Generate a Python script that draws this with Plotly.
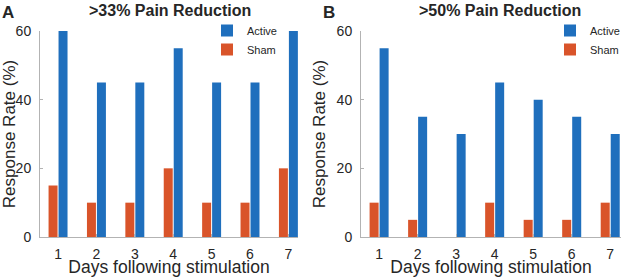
import plotly.graph_objects as go

days = [1, 2, 3, 4, 5, 6, 7]
active_33 = [60, 45, 45, 55, 45, 45, 60]
sham_33 = [15, 10, 10, 20, 10, 10, 20]
active_50 = [55, 35, 30, 45, 40, 35, 30]
sham_50 = [10, 5, 0, 10, 5, 5, 10]
panel_titles = [">33% Pain Reduction", ">50% Pain Reduction"]
panel_letters = ["A", "B"]
y_ticks = [0, 20, 40, 60]

BLUE = "#1f6fbd"
ORANGE = "#d9542a"
TXT = "#262626"
AX = "#b3b3b3"
FONT = "Liberation Sans, Arial, sans-serif"

W, H = 621, 277
fig = go.Figure()

panels = [
    dict(active=active_33, sham=sham_33, xa="x", ya="y", legend="legend",
         xdom=[40 / W, 298 / W], xr=[0.53, 7.25]),
    dict(active=active_50, sham=sham_50, xa="x2", ya="y2", legend="legend2",
         xdom=[361 / W, 1.0], xr=[0.53, 7.28]),
]
ydom = [40 / H, 246 / H]

for i, p in enumerate(panels):
    fig.add_trace(go.Bar(x=days, y=p["sham"], name="Sham", marker_color=ORANGE,
                         marker_line_width=0, xaxis=p["xa"], yaxis=p["ya"],
                         legend=p["legend"], legendrank=2))
    fig.add_trace(go.Bar(x=days, y=p["active"], name="Active", marker_color=BLUE,
                         marker_line_width=0, xaxis=p["xa"], yaxis=p["ya"],
                         legend=p["legend"], legendrank=1))

axis_common = dict(showgrid=False, zeroline=False, showline=True, linecolor=AX,
                   linewidth=1, ticks="inside", ticklen=3, tickcolor=AX,
                   automargin=False,
                   tickfont=dict(family=FONT, size=14, color=TXT))

for i, p in enumerate(panels):
    sfx = "" if i == 0 else "2"
    fig.update_layout(**{
        "xaxis" + sfx: dict(axis_common, domain=p["xdom"], range=p["xr"],
                            tickvals=days, anchor="y" + sfx,
                            ticklabelstandoff=4,
                            title=dict(text="Days following stimulation",
                                       font=dict(family=FONT, size=17.5, color=TXT),
                                       standoff=1)),
        "yaxis" + sfx: dict(axis_common, domain=ydom, range=[0, 60],
                            tickvals=y_ticks, anchor="x" + sfx,
                            ticklabelstandoff=5,
                            title=dict(text="Response Rate (%)",
                                       font=dict(family=FONT, size=17, color=TXT),
                                       standoff=6)),
    })

legend_common = dict(xanchor="left", yanchor="top", bgcolor="rgba(0,0,0,0)",
                     font=dict(family=FONT, size=11, color=TXT),
                     tracegroupgap=0, borderwidth=0)
fig.update_layout(
    width=W, height=H,
    margin=dict(l=0, r=0, t=0, b=0, autoexpand=False),
    paper_bgcolor="white", plot_bgcolor="white",
    barmode="group", bargap=0.48, bargroupgap=0.1,
    font=dict(family=FONT, color=TXT),
    showlegend=True,
    legend=dict(legend_common, x=207 / W, y=1 - 16 / H),
    legend2=dict(legend_common, x=550 / W, y=1 - 16 / H),
)

letter_x = [0, 321]
title_x = [170, 500]
for i in range(2):
    fig.add_annotation(text="<b>" + panel_letters[i] + "</b>", x=letter_x[i] / W,
                       y=1 - 1 / H, xref="paper", yref="paper", xanchor="left",
                       yanchor="top", showarrow=False,
                       font=dict(family=FONT, size=17, color=TXT))
    fig.add_annotation(text="<b>" + panel_titles[i] + "</b>", x=title_x[i] / W,
                       y=1 - 0 / H, xref="paper", yref="paper", xanchor="center",
                       yanchor="top", showarrow=False,
                       font=dict(family=FONT, size=16, color=TXT))

fig.write_html("out.html", config={"displayModeBar": False},
               post_script="document.body.style.margin='0';document.body.style.overflow='hidden';")
